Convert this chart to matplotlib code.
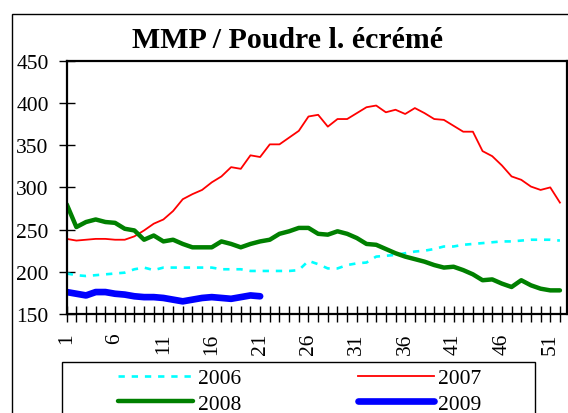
import numpy as np
import matplotlib.pyplot as plt
from matplotlib.patches import Rectangle

plt.rcParams['font.family'] = ['Liberation Serif', 'DejaVu Serif']

# semaines
weeks_lbl = ['1', '6', '11', '16', '21', '26', '31', '36', '41', '46', '51']

# prix par semaine
y2006 = [198, 196, 195, 196, 197, 198, 199, 203, 205, 202, 205, 205, 205, 205, 205, 205,
         203, 203, 203, 201, 201, 201, 201, 201, 202, 213, 209, 204, 204, 208, 210, 211,
         218, 219, 220, 222, 224, 225, 227, 230, 230, 232, 233, 234, 235, 236, 236, 237,
         238, 238, 238, 237]
y2007 = [239, 237, 238, 239, 239, 238, 238, 242, 249, 257, 262, 272, 286, 292, 297, 306,
         313, 324, 322, 338, 336, 351, 351, 359, 367, 384, 386, 372, 381, 381, 388, 395,
         397, 389, 392, 387, 394, 388, 381, 380, 373, 366, 366, 343, 337, 326, 313, 309,
         301, 297, 300, 282]
y2008 = [280, 253, 259, 262, 259, 258, 251, 249, 238, 243, 236, 238, 233, 229, 229, 229,
         236, 233, 229, 233, 236, 238, 245, 248, 252, 252, 245, 244, 248, 245, 240, 233,
         232, 227, 222, 218, 215, 212, 208, 205, 206, 202, 197, 190, 191, 186, 182, 190,
         184, 180, 178, 178]
y2009 = [176, 174, 172, 176, 176, 174, 173, 171, 170, 170, 169, 167, 165, 167, 169, 170,
         169, 168, 170, 172, 171]

fig = plt.figure(figsize=(5.68, 4.14), dpi=100)
fig.patches.append(Rectangle((11.6 / 568, -0.1), 1.2, 1 - 14.5 / 414 + 0.1,
                             transform=fig.transFigure, fill=False, lw=1.0,
                             ec='black', zorder=0))

ax = fig.add_axes([66.7 / 568, 1 - 315 / 414, 500 / 568, (315 - 61.8) / 414])

x6 = np.arange(1, len(y2006) + 1)
x7 = np.arange(1, len(y2007) + 1)
x8 = np.arange(1, len(y2008) + 1)
x9 = np.arange(1, len(y2009) + 1)

l6, = ax.plot(x6, y2006, color='#00FFFF', lw=1.9, dashes=(2.4, 2.6))
l7, = ax.plot(x7, y2007, color='#FF0000', lw=1.3)
l8, = ax.plot(x8, y2008, color='#008000', lw=3.2, solid_capstyle='round')
l9, = ax.plot(x9, y2009, color='#0000FF', lw=4.8, solid_capstyle='round')

ax.set_ylim(150, 450)
ax.set_yticks(np.arange(150, 451, 50))
ax.set_xlim(1, 52.7)
ax.set_xticks(np.arange(1, 53))
ax.set_xticklabels([str(i) if str(i) in weeks_lbl else '' for i in range(1, 53)],
                   rotation=90)
ax.tick_params(axis='x', direction='inout', length=11, width=1, labelsize=15.5, pad=8)
ax.tick_params(axis='y', direction='inout', length=12, width=1, labelsize=15.5, pad=7)
for s in ax.spines.values():
    s.set_linewidth(1.6)

fig.text(288 / 568, 1 - 41 / 414, 'MMP / Poudre l. écrémé', ha='center', va='center',
         fontsize=21.5, fontweight='bold')

# legende
fig.patches.append(Rectangle((62 / 568, -0.1), 473 / 568, 1 - 363 / 414 + 0.1,
                             transform=fig.transFigure, fill=False, lw=1.0,
                             ec='black', zorder=0))
fig.legend([l6, l8, l7, l9], ['2006', '2008', '2007', '2009'], ncol=2,
           loc='upper left', bbox_to_anchor=(118 / 568, 1 - 369 / 414),
           frameon=False, fontsize=15.5, borderpad=0, borderaxespad=0,
           handlelength=3.5, handletextpad=0.2, columnspacing=5.45, labelspacing=0.25)

fig.savefig('out.png', dpi=100)
